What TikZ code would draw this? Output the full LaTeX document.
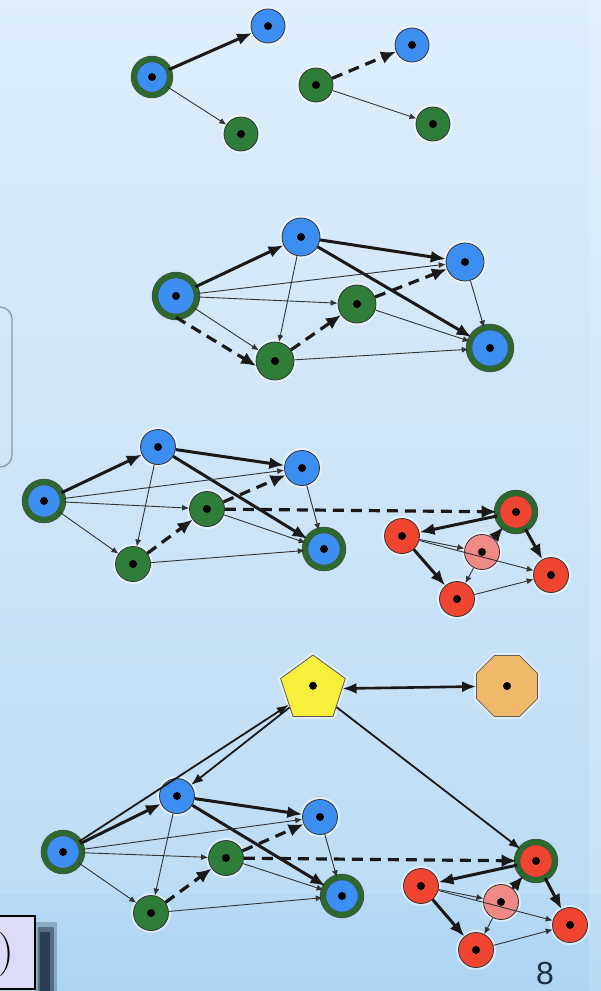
\documentclass[tikz,border=0pt]{standalone}
\usepackage{fontspec}
\newfontfamily\numfont{Liberation Sans}
\usetikzlibrary{arrows.meta,shapes.geometric}
\definecolor{nblue}{HTML}{3C8FF0}
\definecolor{ngreen}{HTML}{2E7D38}
\definecolor{ringc}{HTML}{2A6A2C}
\definecolor{nred}{HTML}{EF4530}
\definecolor{npink}{HTML}{EF8A86}
\definecolor{nyellow}{HTML}{F7EF3C}
\definecolor{norange}{HTML}{F0B96A}
\definecolor{bgtop}{HTML}{DEEEFB}
\definecolor{bgbot}{HTML}{BDDDF6}
\definecolor{bandtop}{HTML}{B6D9F5}
\definecolor{bandbot}{HTML}{ADD4F3}
\definecolor{boxfill}{HTML}{DCDCFA}
\definecolor{shadowc}{HTML}{16263A}
\definecolor{framec}{HTML}{8A9DAA}
\definecolor{numc}{HTML}{1E2E44}
\tikzset{
  base/.style={circle, inner sep=0pt, draw=black!80, line width=0.8pt,
    preaction={draw=white, line width=5pt, opacity=0.5},
    path picture={\fill[black] (path picture bounding box.center) circle (4pt);}},
  bl/.style={base, fill=nblue},
  gr/.style={base, fill=ngreen},
  rd/.style={base, fill=nred},
  pk/.style={base, fill=npink},
  ringed/.style={draw=black!70, double=ringc, double distance=5pt, line width=0.7pt},
  sz1/.style={minimum size=34pt},
  big1/.style={minimum size=36pt},
  sz2/.style={minimum size=38pt},
  big2/.style={minimum size=42pt},
  sz3/.style={minimum size=35pt},
  big3/.style={minimum size=38pt},
  poly/.style={inner sep=0pt, draw=black!65, line width=0.8pt,
    preaction={draw=white, line width=5pt, opacity=0.5},
    path picture={\fill[black] (path picture bounding box.center) circle (4pt);}},
  thk/.style={draw=black!90, line width=3pt, -{Latex[length=15pt,width=12pt]}},
  thn/.style={draw=black!80, line width=0.9pt, -{Latex[length=7pt,width=6pt]}},
  med/.style={draw=black!90, line width=1.8pt, -{Latex[length=12pt,width=9pt]}},
  dsh/.style={draw=black!90, line width=3.2pt, dash pattern=on 11pt off 7pt, -{Latex[length=15pt,width=13pt]}},
}
\begin{document}
\begin{tikzpicture}[x=1pt,y=-1pt]
\useasboundingbox (0,0) rectangle (601,991);
\clip (0,0) rectangle (601,991);
% background
\fill[top color=bgtop, bottom color=bgbot] (0,0) rectangle (601,894);
\fill[top color=bandtop, bottom color=bandbot] (0,894) rectangle (601,991);
\fill[white, opacity=0.15] (589,0) rectangle (601,991);
\draw[framec, line width=1.3pt, rounded corners=12pt] (-20,307) rectangle (12,467);
% bottom-left box with shadow
\fill[shadowc, opacity=0.25] (35,922) rectangle (57,991);
\fill[shadowc, opacity=0.45] (38,927) rectangle (54,991);
\fill[shadowc, opacity=0.65] (40,932) rectangle (50,991);
\draw[fill=boxfill, line width=1.2pt] (-5,916) rectangle (35,989);
\node[anchor=west, inner sep=0pt, font=\fontsize{44}{44}\selectfont] (paren) at (-2,955) {)};
\node[font=\numfont\fontsize{32}{32}\selectfont, text=numc] (pagenum) at (545,973) {8};

% ---------- panel 1 ----------
\node[bl,ringed,big1] (p1a) at (152,77) {};
\node[bl,sz1] (p1b) at (268,26) {};
\node[gr,sz1] (p1c) at (241,134) {};
\node[gr,sz1] (p1d) at (316,85) {};
\node[bl,sz1] (p1e) at (412,45) {};
\node[gr,sz1] (p1f) at (433,124) {};
\draw[thk] (p1a) -- (p1b);
\draw[thn] (p1a) -- (p1c);
\draw[dsh] (p1d) -- (p1e);
\draw[thn] (p1d) -- (p1f);

% ---------- panel 2 ----------
\node[bl,ringed,big2] (p2a) at (176,296) {};
\node[bl,sz2] (p2b) at (301,237) {};
\node[bl,sz2] (p2c) at (465,262) {};
\node[gr,sz2] (p2d) at (357,304) {};
\node[gr,sz2] (p2e) at (275,361) {};
\node[bl,ringed,big2] (p2f) at (490,348) {};
\draw[thk] (p2a) -- (p2b);
\draw[thk] (p2b) -- (p2c);
\draw[thk] (p2b) -- (p2f);
\draw[thn] (p2a) -- (p2c);
\draw[thn] (p2a) -- (p2d);
\draw[thn] (p2a) -- (p2e);
\draw[dsh] (p2a.south) -- (p2e.195);
\draw[thn] (p2b) -- (p2e);
\draw[dsh] (p2e) -- (p2d);
\draw[dsh] (p2d) -- (p2c);
\draw[thn] (p2d) -- (p2f);
\draw[thn] (p2e) -- (p2f);
\draw[thn] (p2c) -- (p2f);

% ---------- panel 3 ----------
\node[bl,ringed,big3] (p3a) at (44,501) {};
\node[bl,sz3] (p3b) at (158,447) {};
\node[bl,sz3] (p3c) at (302,468) {};
\node[gr,sz3] (p3d) at (207,509) {};
\node[gr,sz3] (p3e) at (133,564) {};
\node[bl,ringed,big3] (p3f) at (324,549) {};
\node[rd,ringed,big3] (p3r1) at (516,512) {};
\node[rd,sz3] (p3r2) at (402,536) {};
\node[pk,sz3] (p3r3) at (482,552) {};
\node[rd,sz3] (p3r4) at (551,575) {};
\node[rd,sz3] (p3r5) at (457,599) {};
\draw[thk] (p3a) -- (p3b);
\draw[thk] (p3b) -- (p3c);
\draw[thk] (p3b) -- (p3f);
\draw[thn] (p3a) -- (p3c);
\draw[thn] (p3a) -- (p3d);
\draw[thn] (p3a) -- (p3e);
\draw[thn] (p3b) -- (p3e);
\draw[dsh] (p3e) -- (p3d);
\draw[dsh] (p3d) -- (p3c);
\draw[thn] (p3d) -- (p3f);
\draw[thn] (p3e) -- (p3f);
\draw[thn] (p3c) -- (p3f);
\draw[dsh] (p3d) -- (p3r1);
\draw[thk] (p3r1) -- (p3r2);
\draw[thk] (p3r1) -- (p3r4);
\draw[thk] (p3r2) -- (p3r5);
\draw[thk] (p3r3) -- (p3r1);
\draw[thn] (p3r2) -- (p3r3);
\draw[thn] (p3r2) -- (p3r4);
\draw[thn] (p3r3) -- (p3r5);
\draw[thn] (p3r5) -- (p3r4);

% ---------- panel 4 ----------
\node[poly, regular polygon, regular polygon sides=5, minimum size=68pt, fill=nyellow] (p4p) at (313,689) {};
\node[poly, regular polygon, regular polygon sides=8, minimum size=66pt, fill=norange] (p4o) at (507,686) {};
\node[bl,ringed,big3] (p4a) at (63,852) {};
\node[bl,sz3] (p4b) at (177,796) {};
\node[bl,sz3] (p4c) at (320,817) {};
\node[gr,sz3] (p4d) at (226,858) {};
\node[gr,sz3] (p4e) at (151,913) {};
\node[bl,ringed,big3] (p4f) at (342,896) {};
\node[rd,ringed,big3] (p4r1) at (536,861) {};
\node[rd,sz3] (p4r2) at (421,886) {};
\node[pk,sz3] (p4r3) at (501,902) {};
\node[rd,sz3] (p4r4) at (570,925) {};
\node[rd,sz3] (p4r5) at (476,950) {};
\draw[draw=black!90, line width=2.6pt, {Latex[length=14pt,width=11pt]}-{Latex[length=14pt,width=11pt]}] (p4p) -- (p4o);
\draw[med] (p4a) -- (p4p);
\draw[med] (p4p) -- (p4b);
\draw[med] (p4p) -- (p4r1);
\draw[thk] (p4a) -- (p4b);
\draw[thk] (p4b) -- (p4c);
\draw[thk] (p4b) -- (p4f);
\draw[thn] (p4a) -- (p4c);
\draw[thn] (p4a) -- (p4d);
\draw[thn] (p4a) -- (p4e);
\draw[thn] (p4b) -- (p4e);
\draw[dsh] (p4e) -- (p4d);
\draw[dsh] (p4d) -- (p4c);
\draw[thn] (p4d) -- (p4f);
\draw[thn] (p4e) -- (p4f);
\draw[thn] (p4c) -- (p4f);
\draw[dsh] (p4d) -- (p4r1);
\draw[thk] (p4r1) -- (p4r2);
\draw[thk] (p4r1) -- (p4r4);
\draw[thk] (p4r2) -- (p4r5);
\draw[thk] (p4r3) -- (p4r1);
\draw[thn] (p4r2) -- (p4r3);
\draw[thn] (p4r2) -- (p4r4);
\draw[thn] (p4r3) -- (p4r5);
\draw[thn] (p4r5) -- (p4r4);
\end{tikzpicture}
\end{document}
